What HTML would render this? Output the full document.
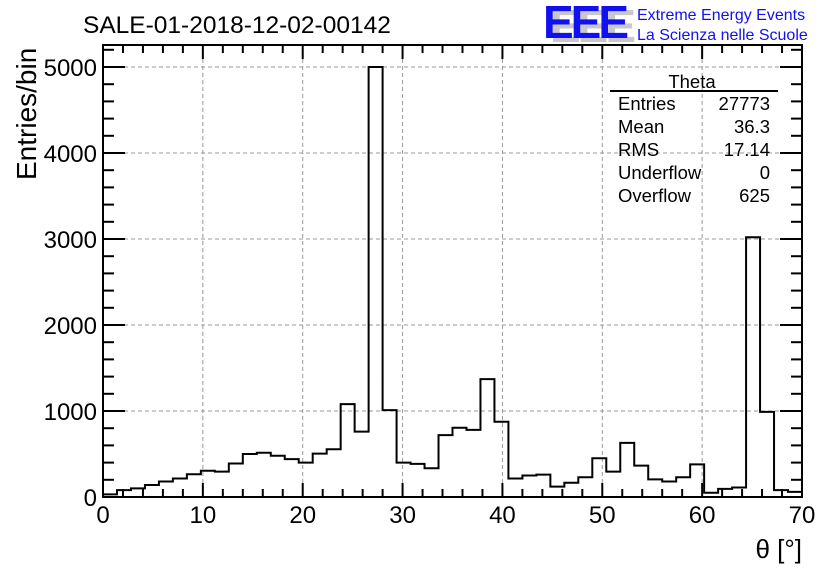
<!DOCTYPE html>
<html><head><meta charset="utf-8"><style>
body{margin:0;background:#fff;}
svg{display:block;font-family:"Liberation Sans",sans-serif;}
</style></head><body>
<svg width="836" height="572" xmlns="http://www.w3.org/2000/svg">
<g id="grid"></g>
<g id="ticks"></g>
<path id="hist" fill="none" stroke="#000" stroke-width="2"/>
<rect x="103" y="45" width="699" height="452" fill="none" stroke="#000" stroke-width="2"/>
<g id="labels" font-size="24"></g>
<text x="83" y="33" font-size="24.5">SALE-01-2018-12-02-00142</text>
<text x="36" y="180" font-size="28" transform="rotate(-90 36 180)" text-anchor="start">Entries/bin</text>
<text x="802" y="558" font-size="26" text-anchor="end">θ [°]</text>
<g>
<text x="550" y="42" font-size="46" font-weight="bold" fill="#c8c8c8" letter-spacing="-3">EEE</text>
<text x="543" y="38" font-size="46" font-weight="bold" fill="#1010f0" letter-spacing="-3">EEE</text>
<text x="637" y="20" font-size="16" fill="#1010f0">Extreme Energy Events</text>
<text x="637" y="40" font-size="16" fill="#1010f0">La Scienza nelle Scuole</text>
</g>
<g font-size="18.5">
<text x="692" y="88" text-anchor="middle">Theta</text>
<line x1="610" y1="91" x2="778" y2="91" stroke="#000" stroke-width="2"/>
<text x="618" y="110">Entries</text><text x="770" y="110" text-anchor="end">27773</text>
<text x="618" y="133">Mean</text><text x="770" y="133" text-anchor="end">36.3</text>
<text x="618" y="156">RMS</text><text x="770" y="156" text-anchor="end">17.14</text>
<text x="618" y="179">Underflow</text><text x="770" y="179" text-anchor="end">0</text>
<text x="618" y="202">Overflow</text><text x="770" y="202" text-anchor="end">625</text>
</g>
</svg>
<script>
const binWidth = 1.4;
const counts = [30,80,100,140,180,215,265,305,295,390,500,515,480,440,400,505,555,1080,760,5000,1010,400,385,335,720,805,780,1370,875,215,250,260,120,165,230,450,295,630,365,205,180,230,380,50,95,110,3020,990,80,60];
const xTicks = [0,10,20,30,40,50,60,70];
const yTicks = [0,1000,2000,3000,4000,5000];
const X0=103,X1=802,Y0=497,YTOP=45;
const xs=v=>X0+(X1-X0)*v/70;
const ys=v=>Y0-(Y0-67)*v/5000;
const NS='http://www.w3.org/2000/svg';
function mk(tag,attrs,parent){const e=document.createElementNS(NS,tag);for(const k in attrs)e.setAttribute(k,attrs[k]);parent.appendChild(e);return e;}
let d='M'+X0+','+Y0;
counts.forEach((c,i)=>{const a=xs(i*binWidth),b=xs((i+1)*binWidth);d+=' L'+a+','+ys(c)+' L'+b+','+ys(c);});
d+=' L'+X1+','+Y0;
document.getElementById('hist').setAttribute('d',d);
const grid=document.getElementById('grid'),tk=document.getElementById('ticks'),lb=document.getElementById('labels');
xTicks.forEach(v=>{const x=xs(v);
 if(v>0&&v<70){const g=mk('line',{x1:x,x2:x,y1:YTOP,y2:Y0,stroke:'#999','stroke-dasharray':'4,3'},grid);
 }
 const t=mk('text',{x:x,y:523,'text-anchor':'middle'},lb);t.textContent=v;
 });
yTicks.forEach(v=>{const y=ys(v);
 if(v>0){const g=mk('line',{x1:X0,x2:X1,y1:y,y2:y,stroke:'#999','stroke-dasharray':'4,3'},grid);
 }
 const t=mk('text',{x:97,y:y+9,'text-anchor':'end'},lb);t.textContent=v;
 });
for(let v=0;v<=70;v+=2){const x=xs(v),L=(v%10===0)?14:8;
 mk('line',{x1:x,x2:x,y1:Y0,y2:Y0-L,stroke:'#000','stroke-width':2},tk);
 mk('line',{x1:x,x2:x,y1:YTOP,y2:YTOP+L,stroke:'#000','stroke-width':2},tk);}
for(let v=0;v<=5200;v+=200){const y=ys(v);if(y<YTOP)continue;const L=(v%1000===0)?22:11;
 mk('line',{x1:X0,x2:X0+L,y1:y,y2:y,stroke:'#000','stroke-width':2},tk);
 mk('line',{x1:X1,x2:X1-L,y1:y,y2:y,stroke:'#000','stroke-width':2},tk);}
</script>
</body></html>
